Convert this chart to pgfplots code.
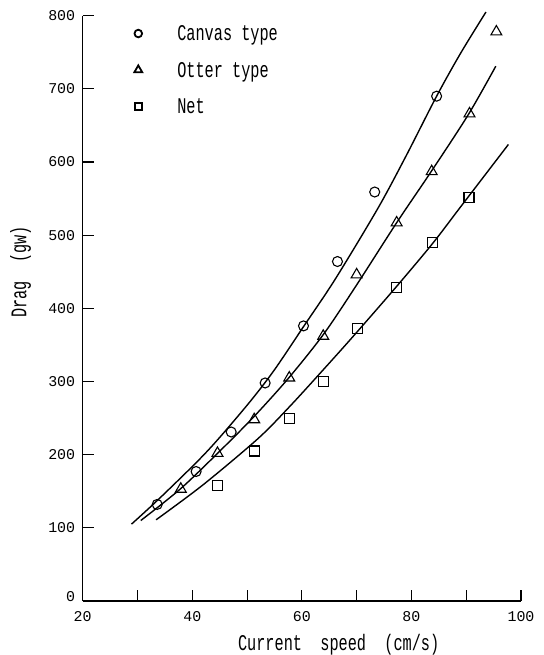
\documentclass[border=0pt]{standalone}
\usepackage{fontspec}
\setmainfont{Liberation Mono}
\newfontfamily\labelfont[FakeStretch=0.68]{Liberation Mono}
\usepackage{pgfplots}
\pgfplotsset{compat=1.18}
\begin{document}
\begin{tikzpicture}
\begin{axis}[
  scale only axis, width=438.3bp, height=585.3bp,
  xmin=20, xmax=100, ymin=0, ymax=800,
  clip=false,
  axis x line*=bottom, axis y line*=left,
  axis line style={-, line width=1.3bp},
  xtick={20,30,...,100}, xticklabels={20,,40,,60,,80,,100},
  ytick={0,100,...,800},
  yticklabels={\raisebox{8bp}{0},100,200,300,400,500,600,700,800},
  tick align=inside, major tick length=11bp,
  tick style={line width=1.1bp, black},
  /pgf/number format/assume math mode=true,
  ticklabel style={font=\fontsize{15}{18}\selectfont},
  xticklabel style={yshift=-7bp},
  yticklabel style={xshift=-4bp},
  label style={font=\labelfont\fontsize{22.5}{26}\selectfont},
  xlabel={Current\ \ speed\ \ (cm/s)},
  ylabel={Drag\ \ (gw)},
  xlabel style={at={(axis description cs:0.584,-0.075)}, anchor=center},
  ylabel style={at={(axis description cs:-0.142,0.562)}, anchor=center},
  legend style={draw=none, fill=none, at={(axis cs:29.42,785.2)}, anchor=north west,
    inner sep=0pt, outer sep=0pt,
    nodes={inner sep=0pt, text height=14bp, text depth=4bp},
    font=\labelfont\fontsize{22.5}{26}\selectfont, row sep=18.5bp},
  legend cell align=left,
  legend image code/.code={\draw[#1] plot coordinates {(0bp,2bp)};},
  /tikz/every odd column/.append style={column sep=35bp},
]
\addplot[forget plot, only marks, mark=o, mark size=5bp, line width=1.1bp] coordinates {
 (33.6,132) (40.7,177) (47.1,231) (53.3,298) (60.3,376) (66.5,464) (73.3,559) (84.6,690)};
\addplot[forget plot, only marks, mark=triangle, mark size=6.3bp, line width=1.1bp] coordinates {
 (37.9,153) (44.6,202) (51.3,248) (57.7,305) (63.9,362) (70.0,446) (77.3,517) (83.7,587) (90.6,666) (95.5,778)};
\addplot[forget plot, only marks, mark=square, mark size=5bp, line width=1.1bp] coordinates {
 (44.6,158) (51.3,205) (57.8,250) (63.9,300) (70.1,372) (77.3,428) (83.8,490) (90.5,551)};
% fitted curves
\addplot[forget plot, smooth, line width=1.4bp] coordinates {
 (28.9,105) (33.7,138) (40.7,189) (44.7,221) (50.6,273) (55,316) (60.3,375) (66.1,440)
 (73.9,537) (79,608) (84.6,690) (89,749) (93.6,805)};
\addplot[forget plot, smooth, line width=1.4bp] coordinates {
 (30.6,110) (37.8,153) (44.5,201) (51,250) (57.5,304) (64,365) (70,432)
 (77.3,517) (83.7,588) (90.4,665) (95.4,731)};
\addplot[forget plot, smooth, line width=1.4bp] coordinates {
 (33.4,111) (42,159) (52,222) (57.8,266) (63.9,316) (69.4,362) (77.3,430)
 (83.9,489) (88.8,537) (97.7,624)};
% legend
\addlegendimage{only marks, mark=o, mark size=3.8bp, line width=1.8bp}
\addlegendentry{Canvas type}
\addlegendimage{only marks, mark=triangle, mark size=4.6bp, line width=1.8bp}
\addlegendentry{Otter type}
\addlegendimage{only marks, mark=square, mark size=3.6bp, line width=1.8bp}
\addlegendentry{Net}
\end{axis}
\pgfresetboundingbox
\path[use as bounding box] ([xshift=-82.7bp,yshift=-54bp]current axis.south west) rectangle ([xshift=22bp,yshift=15.7bp]current axis.north east);
\end{tikzpicture}
\end{document}
